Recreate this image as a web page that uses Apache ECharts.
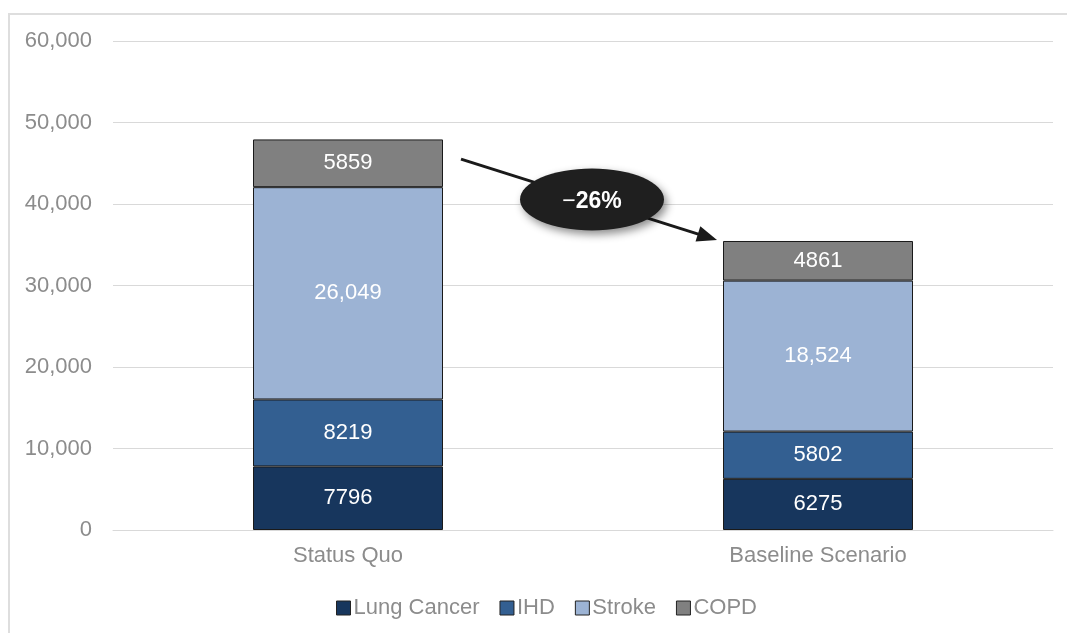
<!DOCTYPE html>
<html>
<head>
<meta charset="utf-8">
<script src="https://cdn.jsdelivr.net/npm/echarts@6/dist/echarts.min.js"></script>
<style>
html,body{margin:0;padding:0;background:#fff;}
#c{width:1067px;height:633px;}
</style>
</head>
<body>
<div id="c"></div>
<script>
const categories = ['Status Quo', 'Baseline Scenario'];
const lungCancer = [7796, 6275];
const ihd = [8219, 5802];
const stroke = [26049, 18524];
const copd = [5859, 4861];
const seriesNames = ['Lung Cancer', 'IHD', 'Stroke', 'COPD'];
const yTicks = [0, 10000, 20000, 30000, 40000, 50000, 60000];
const changeLabel = '26%';
const arrowStartValue = 45500;

const FONT = '"Liberation Sans", Arial, sans-serif';
const colors = ['#17365D', '#335F91', '#9CB3D4', '#808080'];
const chart = echarts.init(document.getElementById('c'));

function fmt(v) { return v >= 10000 ? v.toLocaleString('en-US') : String(v); }

const dataSets = [lungCancer, ihd, stroke, copd];
const series = seriesNames.map((n, i) => ({
  name: n,
  type: 'bar',
  stack: 'total',
  barWidth: 190,
  data: dataSets[i],
  itemStyle: { color: colors[i], borderColor: '#1a1a1a', borderWidth: 1 },
  label: {
    show: true, position: 'inside', color: '#fff', fontSize: 22, fontFamily: FONT,
    formatter: p => fmt(p.value)
  },
  emphasis: { disabled: true }
}));

chart.setOption({
  animation: false,
  color: colors,
  grid: { left: 113, right: 14, top: 41, bottom: 103, containLabel: false },
  legend: {
    data: seriesNames.map((n, i) => ({ name: n, itemStyle: { color: colors[i], borderColor: '#222', borderWidth: 1 } })),
    left: 331, top: 592, itemWidth: 14, itemHeight: 14, itemGap: 20,
    icon: 'rect',
    textStyle: { color: '#8c8c8c', fontSize: 22, fontFamily: FONT, padding: [0, 0, 0, -2] }
  },
  xAxis: {
    type: 'category', data: categories,
    axisLine: { lineStyle: { color: '#d9d9d9', width: 1 } },
    axisTick: { show: false },
    axisLabel: { color: '#8c8c8c', fontSize: 22, fontFamily: FONT, margin: 15 }
  },
  yAxis: {
    type: 'value', min: yTicks[0], max: yTicks[yTicks.length - 1], interval: yTicks[1] - yTicks[0],
    axisLine: { show: false }, axisTick: { show: false },
    splitLine: { lineStyle: { color: '#d9d9d9', width: 1 } },
    axisLabel: { color: '#8c8c8c', fontSize: 22, fontFamily: FONT, margin: 21, formatter: v => v.toLocaleString('en-US') }
  },
  series: series
});

// annotation arrow + ellipse, positioned from the axes
const total2 = lungCancer[1] + ihd[1] + stroke[1] + copd[1];
const p0 = chart.convertToPixel({ gridIndex: 0 }, [0, arrowStartValue]);
const p1 = chart.convertToPixel({ gridIndex: 0 }, [1, total2]);
const x0 = p0[0] + 113, y0 = p0[1];
const x1 = p1[0] - 101, y1 = p1[1] - 1;
const ang = Math.atan2(y1 - y0, x1 - x0);
const hl = 20, hw = 8;
const bx = x1 - hl * Math.cos(ang), by = y1 - hl * Math.sin(ang);
const nx = -Math.sin(ang), ny = Math.cos(ang);
const mx = (x0 + x1) / 2 + 3, my = (y0 + y1) / 2;

chart.setOption({
  graphic: [
    { type: 'rect', shape: { x: 9, y: 14, width: 1200, height: 800 }, style: { fill: 'none', stroke: '#dedede', lineWidth: 2 }, silent: true, z: -1 },
    { type: 'line', shape: { x1: x0, y1: y0, x2: bx + 2 * Math.cos(ang), y2: by + 2 * Math.sin(ang) }, style: { stroke: '#1a1a1a', lineWidth: 3 }, z: 10 },
    { type: 'polygon', shape: { points: [[x1, y1], [bx + nx * hw, by + ny * hw], [bx - nx * hw, by - ny * hw]] }, style: { fill: '#1a1a1a' }, z: 10 },
    { type: 'ellipse', shape: { cx: mx, cy: my, rx: 72, ry: 31 },
      style: { fill: '#1f1f1f', shadowBlur: 8, shadowOffsetX: 3, shadowOffsetY: 4, shadowColor: 'rgba(0,0,0,0.45)' }, z: 11 },
    { type: 'text', x: mx, y: my + 2, z: 12,
      style: {
        text: '{m|\u2212}{b|' + changeLabel + '}', align: 'center', verticalAlign: 'middle',
        rich: {
          m: { fill: '#fff', fontSize: 23, fontFamily: FONT },
          b: { fill: '#fff', fontSize: 23, fontWeight: 'bold', fontFamily: FONT }
        }
      } }
  ]
});
</script>
</body>
</html>
